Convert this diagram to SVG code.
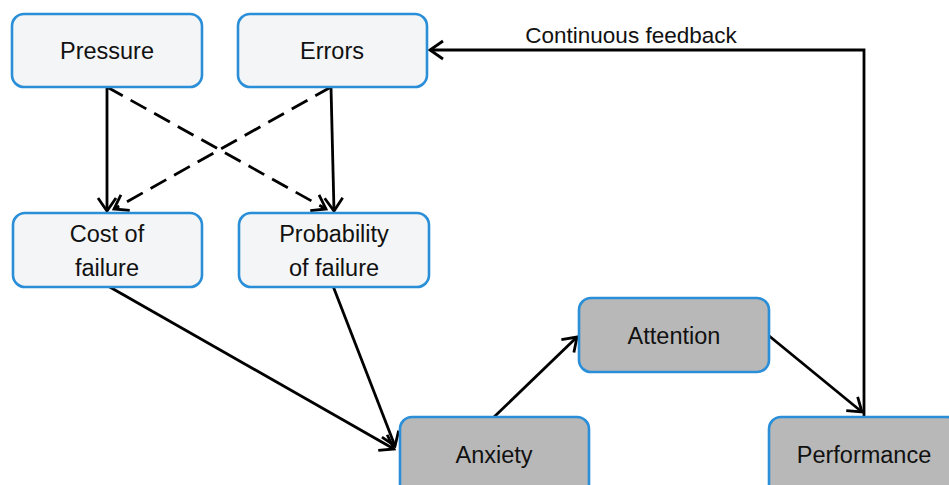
<svg xmlns="http://www.w3.org/2000/svg" width="949" height="485" viewBox="0 0 949 485">
<defs>
<marker id="arr" markerUnits="userSpaceOnUse" markerWidth="22" markerHeight="22" viewBox="0 0 22 22" refX="18" refY="11" orient="auto">
<path d="M5,2 L18,11 L5,20" fill="none" stroke="#000" stroke-width="2.8" stroke-linejoin="miter"/>
</marker>
<style>
.lt{fill:#f3f5f6;stroke:#2a8fd8;stroke-width:2.6}
.dk{fill:#b8b8b8;stroke:#2a8fd8;stroke-width:2.6}
text{font-family:"Liberation Sans",Arial,sans-serif;font-size:23.5px;fill:#111;text-anchor:middle}
.c{fill:none;stroke:#000;stroke-width:2.8;marker-end:url(#arr)}
.d{stroke-dasharray:18 9}
</style>
</defs>
<rect width="949" height="485" fill="#fff"/>
<g id="connectors">
<line class="c" x1="107" y1="87" x2="107" y2="211"/>
<line class="c" x1="331" y1="87" x2="334" y2="211"/>
<line class="c d" x1="107" y1="87" x2="326" y2="209"/>
<line class="c d" x1="331" y1="87" x2="114" y2="209"/>
<line class="c" x1="108" y1="286" x2="394" y2="449"/>
<line class="c" x1="333" y1="286" x2="395" y2="446"/>
<line class="c" x1="494" y1="417" x2="577" y2="337"/>
<line class="c" x1="768" y1="335" x2="862" y2="412"/>
<polyline class="c" points="864,417 864,50 430,50"/>
<text x="631" y="43" style="font-size:22.5px">Continuous feedback</text>
</g>
<g id="pressure"><rect class="lt" x="12" y="14" width="190" height="73" rx="12"/><text x="107" y="59">Pressure</text></g>
<g id="errors"><rect class="lt" x="238" y="14" width="189" height="73" rx="12"/><text x="332" y="59">Errors</text></g>
<g id="cost"><rect class="lt" x="13" y="213" width="189" height="74" rx="12"/><text x="107" y="242">Cost of</text><text x="107" y="276">failure</text></g>
<g id="probability"><rect class="lt" x="239" y="213" width="190" height="74" rx="12"/><text x="334" y="242">Probability</text><text x="334" y="276">of failure</text></g>
<g id="attention"><rect class="dk" x="579" y="298" width="190" height="74" rx="12"/><text x="674" y="344">Attention</text></g>
<g id="anxiety"><rect class="dk" x="400" y="417" width="189" height="80" rx="12"/><text x="494" y="463">Anxiety</text></g>
<g id="performance"><rect class="dk" x="769" y="417" width="190" height="80" rx="12"/><text x="864" y="463">Performance</text></g>
</svg>
